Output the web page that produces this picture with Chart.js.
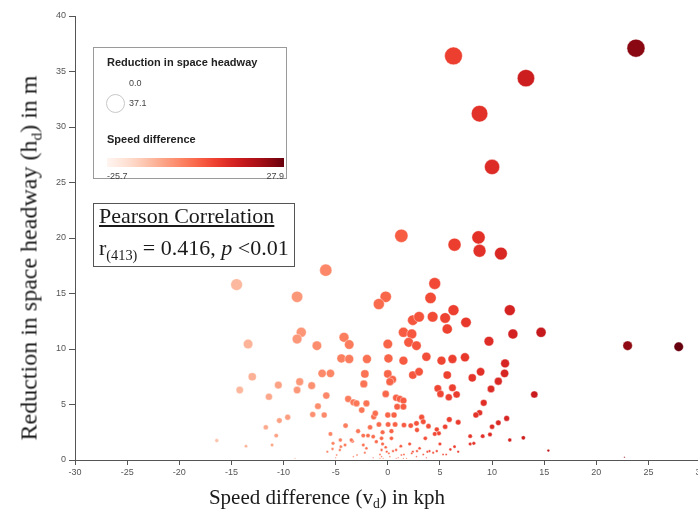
<!DOCTYPE html>
<html>
<head>
<meta charset="utf-8">
<script src="https://cdn.jsdelivr.net/npm/chart.js@4.4.0/dist/chart.umd.min.js"></script>
<style>
  html, body { margin: 0; padding: 0; background: #fff; overflow: hidden; }
  #wrap { position: relative; width: 698px; height: 518px; overflow: hidden; }
  #chart { position: absolute; left: 0; top: 0; }
  .serif { font-family: "Liberation Serif", "DejaVu Serif", serif; color: #1a1a1a; }
  .sans { font-family: "Liberation Sans", Arial, sans-serif; }
  #ytitle { position: absolute; left: 29px; top: 258px; font-size: 24px; white-space: nowrap;
            transform: translate(-50%, -50%) rotate(-90deg); }
  #xtitle { position: absolute; left: 327px; top: 497px; font-size: 21px; white-space: nowrap;
            transform: translate(-50%, -50%); }
  sub { font-size: 65%; vertical-align: -0.35em; line-height: 0; }
  #legend { position: absolute; left: 93px; top: 47px; width: 192px; height: 130px;
            border: 1px solid #9a9a9a; background: #fff; }
  #legend .t { position: absolute; font-size: 11px; font-weight: bold; color: #222; }
  #legend .v { position: absolute; font-size: 9px; color: #444; }
  #ring { position: absolute; left: 12px; top: 46px; width: 17px; height: 17px; border-radius: 50%;
          border: 1px solid #c8c8c8; }
  #bar { position: absolute; left: 13px; top: 110px; width: 177px; height: 9px; }
  #pearson { position: absolute; left: 93px; top: 203px; width: 200px; height: 62px;
             border: 1.5px solid #555; background: #fff; font-size: 22px; }
  #pearson div { position: absolute; left: 5px; white-space: nowrap; }
</style>
</head>
<body>
<div id="wrap">
  <canvas id="chart" width="720" height="518"></canvas>
  <div id="ytitle" class="serif">Reduction in space headway (h<sub>d</sub>) in m</div>
  <div id="xtitle" class="serif">Speed difference (v<sub>d</sub>) in kph</div>
  <div id="legend" class="sans">
    <div class="t" style="left:13px;top:8px;">Reduction in space headway</div>
    <div class="v" style="left:35px;top:30px;">0.0</div>
    <div id="ring"></div>
    <div class="v" style="left:35px;top:50px;">37.1</div>
    <div class="t" style="left:13px;top:85px;">Speed difference</div>
    <div id="bar"></div>
    <div class="v" id="minLabel" style="left:13px;top:123px;"></div>
    <div class="v" id="maxLabel" style="right:2px;top:123px;"></div>
  </div>
  <div id="pearson" class="serif">
    <div style="top:-1px;text-decoration:underline;">Pearson Correlation</div>
    <div style="top:31px;">r<sub>(413)</sub> = 0.416, <i>p</i> &lt;0.01</div>
  </div>
</div>
<script>
// Speed difference (x, kph) and reduction in space headway (y, m)
const speedDiff = [
  6.3, 13.25, 23.8, 8.8, 10.0, 1.3, 6.4, 8.7, 8.8, 10.85,
  11.7, 12.0, 14.7, 23.0, 27.9, 11.25, 11.2, 14.05, 11.4, 10.6,
  10.0, 11.7, 13.0, 15.4, 22.7,
  -5.95, -14.5, -8.7, 4.5, -0.2, -0.86, 4.1, 6.3, 2.4, 3.0,
  4.3, 5.5, 7.5, 5.7, 9.7, -8.3, -8.7, -13.4, -6.8, -4.2,
  -3.7, 1.5, 2.3, 0.0, 2.0, 2.75, 3.7, 5.15, 6.2, 7.4,
  -4.45, -3.7, -2.0, 0.06, 1.5, -6.3, -5.5, -2.2, 0.0, 2.4,
  3.0, 5.7, 8.9, 8.1, 10.6, 0.45, 0.2, -13.0, -14.2, -10.5,
  -8.45, -8.7, -7.3, -11.4, -5.9, -2.3, -0.2, -3.8, -3.3, -3.0,
  -2.05, -2.5, 0.8, 1.15, 1.5, 4.8, 5.05, 6.2, 5.85, 6.6,
  9.9, 9.2, 8.8, 8.45, -6.7, -7.2, -6.1, -9.6, -10.4, -11.7,
  -10.7, -11.1, -13.6, -16.4, -8.9, -4.05, -5.5, -2.85, -3.4, -2.35,
  -2.35, -4.55, -5.25, -4.1, -5.3, -4.6, -5.8, -2.95, -2.2, -5.0,
  -1.35, -1.2, 0.0, 0.6, 0.9, 1.5, -0.85, -1.7, 0.03, 0.7,
  1.55, 2.2, 2.75, 3.25, 3.4, 3.9, 2.8, 4.7, 5.5, 5.9,
  6.75, 4.9, 4.5, 3.6, -0.5, 0.35, -0.6, 0.35, -1.9, -1.4,
  7.9, 9.1, 9.8, 7.9, 8.25, 5.0, 6.4, 6.0, 6.75, 5.6,
  5.3, 2.1, 1.25, -0.5, -0.2, -0.6, -0.1, -0.75, 0.1, 0.8,
  1.55, 2.4, 3.05, 3.8, 4.35, 0.8, -0.75, 2.75, 1.8, -2.05,
  -1.1, -3.5,
  -4.5, -4.9, -3.3, -1.4, -0.6, -0.45, 0.2, 0.5, 1.0, 1.3,
  1.5, 2.3, 2.8, 3.4, 3.7, 4.0, 4.7
];
const headwayReduction = [
  36.4, 34.4, 37.1, 31.2, 26.4, 20.2, 19.4, 20.05, 18.85, 18.6,
  13.5, 11.35, 11.5, 10.3, 10.2, 8.7, 7.8, 5.9, 3.75, 3.35,
  3.0, 1.8, 2.0, 0.85, 0.25,
  17.1, 15.8, 14.7, 15.9, 14.7, 14.05, 14.6, 13.5, 12.6, 12.9,
  12.9, 12.8, 12.4, 11.8, 10.7, 11.5, 10.9, 10.45, 10.3, 11.05,
  10.4, 11.5, 11.35, 10.45, 10.6, 10.3, 9.3, 8.95, 9.1, 9.25,
  9.15, 9.1, 9.1, 9.15, 8.95, 7.8, 7.8, 7.75, 7.75, 7.65,
  7.95, 7.65, 7.95, 7.4, 7.1, 7.25, 7.05, 7.5, 6.3, 6.75,
  7.05, 6.3, 6.7, 5.7, 5.8, 6.85, 5.95, 5.5, 5.2, 5.1,
  5.1, 4.5, 5.6, 5.5, 5.35, 6.45, 5.95, 6.5, 5.65, 5.9,
  6.4, 5.15, 4.25, 4.05, 4.85, 4.1, 4.05, 3.85, 3.55, 2.95,
  2.2, 1.35, 1.25, 1.75, 0.15, 3.1, 2.35, 2.6, 1.7, 2.2,
  1.35, 1.8, 1.5, 1.35, 1.0, 0.9, 0.75, 0.45, 0.65, 0.2,
  3.9, 4.2, 4.05, 4.05, 4.8, 4.8, 3.2, 2.95, 3.2, 3.2,
  3.15, 3.1, 3.3, 3.85, 3.45, 3.05, 2.7, 2.75, 3.0, 3.65,
  3.4, 2.4, 2.35, 1.95, 2.5, 2.6, 1.95, 1.95, 2.2, 2.1,
  2.15, 2.15, 2.3, 1.45, 1.5, 1.45, 1.2, 0.95, 0.75, 0.5,
  0.5, 1.45, 1.25, 1.45, 1.15, 0.9, 0.75, 0.5, 0.6, 0.9,
  0.5, 0.75, 1.05, 0.75, 0.65, 0.15, 0.15, 0.3, 0.15, 1.05,
  1.65, 1.8,
  1.2, 0.45, 0.3, 0.2, 0.3, 0.15, 0.3, 0.8, 0.2, 0.45,
  0.15, 0.6, 0.8, 0.5, 0.2, 0.8, 0.8
];

// Legend extents
const speedMin = -25.7;
const speedMax = 27.9;
const headwayMax = 37.1;
// point colours start a little further into the ramp than the legend bar
const colourDomainMin = -29;

// d3 "Reds" scheme, interpolated with a basis spline
const reds = ['#fff5f0', '#fee0d2', '#fcbba1', '#fc9272', '#fb6a4a', '#ef3b2c', '#cb181d', '#a50f15', '#67000d']
  .map(h => [1, 3, 5].map(i => parseInt(h.substr(i, 2), 16)));

function basis(t1, v0, v1, v2, v3) {
  const t2 = t1 * t1, t3 = t2 * t1;
  return ((1 - 3 * t1 + 3 * t2 - t3) * v0 + (4 - 6 * t2 + 3 * t3) * v1
    + (1 + 3 * t1 + 3 * t2 - 3 * t3) * v2 + t3 * v3) / 6;
}

function redColor(t) {
  const n = reds.length - 1;
  t = Math.max(0, Math.min(1, t));
  const i = t >= 1 ? n - 1 : Math.floor(t * n);
  const rgb = [0, 1, 2].map(c => {
    const v1 = reds[i][c], v2 = reds[i + 1][c];
    const v0 = i > 0 ? reds[i - 1][c] : 2 * v1 - v2;
    const v3 = i < n - 1 ? reds[i + 2][c] : 2 * v2 - v1;
    return Math.round(Math.max(0, Math.min(255, basis((t - i / n) * n, v0, v1, v2, v3))));
  });
  return `rgb(${rgb[0]}, ${rgb[1]}, ${rgb[2]})`;
}

const colorFor = v => redColor((v - colourDomainMin) / (speedMax - colourDomainMin));
const radiusFor = h => Math.max(0.7, 9 * Math.sqrt(h / headwayMax));

// legend bar + labels
const stops = [];
for (let k = 0; k <= 20; k++) stops.push(`${redColor(k / 20)} ${k * 5}%`);
document.getElementById('bar').style.background = `linear-gradient(to right, ${stops.join(', ')})`;
document.getElementById('minLabel').textContent = speedMin.toFixed(1);
document.getElementById('maxLabel').textContent = speedMax.toFixed(1);

const points = speedDiff.map((x, i) => ({ x: x, y: headwayReduction[i] }));

const axisColor = '#555';
const tickFont = { family: '"Liberation Sans", Arial, sans-serif', size: 9 };

new Chart(document.getElementById('chart').getContext('2d'), {
  type: 'scatter',
  data: {
    datasets: [{
      data: points,
      backgroundColor: ctx => colorFor(ctx.raw.x),
      borderColor: 'rgba(255,255,255,0.8)',
      borderWidth: 0.5,
      pointRadius: ctx => radiusFor(ctx.raw.y),
      pointHoverRadius: ctx => radiusFor(ctx.raw.y)
    }]
  },
  options: {
    responsive: false,
    animation: false,
    layout: { padding: { top: 16, right: 19.4, bottom: 0, left: 0 } },
    plugins: { legend: { display: false }, tooltip: { enabled: false } },
    scales: {
      x: {
        type: 'linear', min: -30, max: 30,
        afterFit: s => { s.height = 58; },
        ticks: { stepSize: 5, color: '#555', font: tickFont, padding: 2, maxRotation: 0 },
        grid: { drawOnChartArea: false, drawTicks: true, tickLength: 5, color: axisColor },
        border: { display: true, color: axisColor, width: 1 }
      },
      y: {
        type: 'linear', min: 0, max: 40,
        afterFit: s => { s.width = 75; },
        ticks: { stepSize: 5, color: '#555', font: tickFont, padding: 3 },
        grid: { drawOnChartArea: false, drawTicks: true, tickLength: 6, color: axisColor },
        border: { display: true, color: axisColor, width: 1 }
      }
    }
  }
});
</script>
</body>
</html>
